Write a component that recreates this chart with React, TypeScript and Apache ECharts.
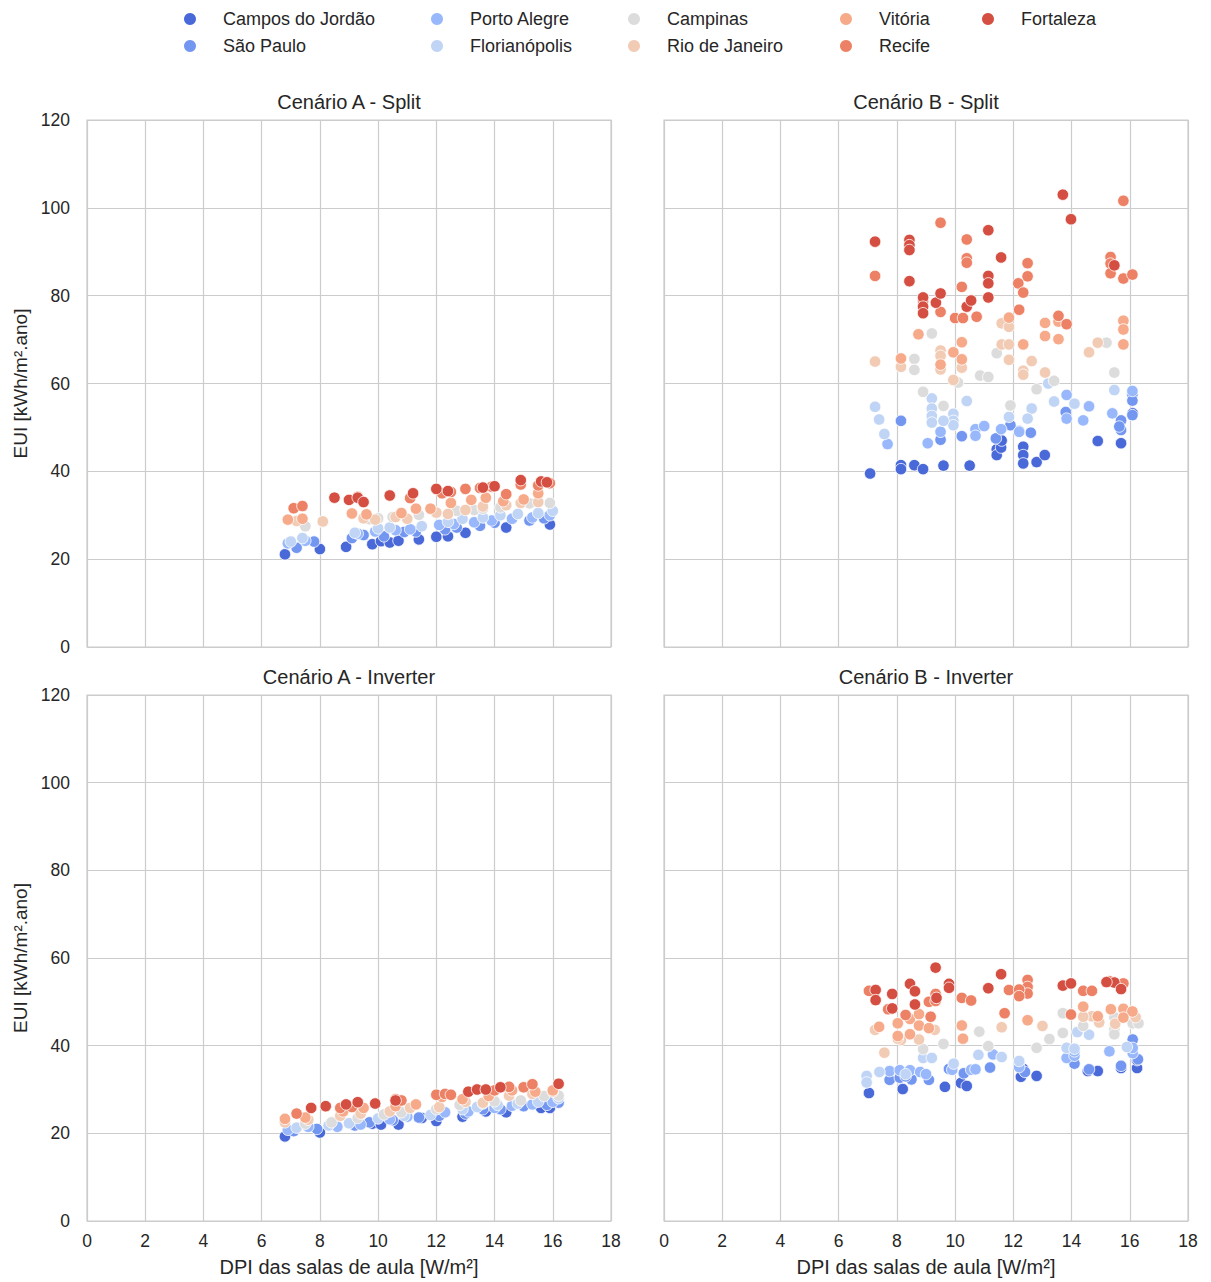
import React, { useEffect, useRef } from "react";
import * as echarts from "echarts";

const CITIES = [
  "Campos do Jordão",
  "São Paulo",
  "Porto Alegre",
  "Florianópolis",
  "Campinas",
  "Rio de Janeiro",
  "Vitória",
  "Recife",
  "Fortaleza",
];
const COLORS = ["#4a69d8", "#7396f0", "#98b8fb", "#c0d4f5", "#dcdcdc", "#f2cbb5", "#f6aa8a", "#ec8165", "#d44e41"];

const PANEL_TITLES = ["Cenário A - Split", "Cenário B - Split", "Cenário A - Inverter", "Cenário B - Inverter"];
const X_TICKS = [0, 2, 4, 6, 8, 10, 12, 14, 16, 18];
const Y_TICKS = [0, 20, 40, 60, 80, 100, 120];

// Cenário A - Split: [DPI, EUI] per city (same order as CITIES)
const A_SPLIT: number[][][] = [
  [[6.8,21.1],[8.0,22.3],[8.9,22.8],[9.8,23.4],[10.1,24.1],[10.4,23.8],[10.7,24.2],[11.4,24.5],[12.0,25.1],[12.4,25.2],[13.0,26.0],[14.4,27.2],[15.9,27.9]],
  [[7.2,22.6],[7.8,24.0],[9.1,24.8],[9.5,25.5],[10.2,25.2],[10.9,26.2],[11.3,26.3],[12.3,26.8],[12.7,27.2],[13.5,27.6],[14.0,28.3],[15.2,28.8],[15.7,29.3]],
  [[6.9,23.6],[7.5,24.2],[9.3,25.8],[9.9,26.3],[10.6,26.6],[11.1,26.8],[12.1,27.8],[12.6,28.0],[13.3,28.4],[13.9,28.8],[14.6,29.2],[15.3,29.5],[15.9,30.0]],
  [[7.0,24.0],[7.4,24.8],[9.2,26.0],[10.0,27.0],[10.4,27.2],[11.5,27.5],[12.4,28.5],[12.9,29.2],[13.6,29.5],[14.2,30.0],[14.8,30.3],[15.5,30.5],[16.0,31.0]],
  [[7.5,27.5],[8.1,28.5],[9.7,29.1],[10.0,29.3],[10.5,29.6],[11.4,30.1],[12.0,30.5],[12.7,31.0],[13.3,31.2],[13.6,31.5],[14.2,31.8],[15.2,32.7],[15.9,32.8]],
  [[7.2,28.7],[8.1,28.6],[9.5,29.3],[9.9,29.0],[10.6,29.6],[11.0,29.2],[12.0,30.6],[12.4,30.3],[13.0,31.2],[13.6,32.0],[14.4,32.3],[14.9,32.8],[15.5,33.0]],
  [[6.9,29.0],[7.4,29.2],[9.1,30.4],[9.6,30.2],[10.8,30.5],[11.3,31.5],[11.8,31.5],[12.5,32.8],[13.2,33.5],[13.7,34.0],[14.3,33.2],[15.0,33.6],[15.5,35.0]],
  [[7.1,31.6],[7.4,32.1],[9.3,34.2],[10.4,34.5],[11.1,33.9],[12.2,35.0],[12.5,35.3],[13.0,36.0],[13.5,36.2],[13.9,36.5],[14.4,34.8],[14.9,37.0],[15.5,36.8],[15.9,37.3]],
  [[8.5,34.0],[9.0,33.5],[9.3,34.0],[9.5,33.0],[10.4,34.5],[11.2,35.0],[12.0,36.0],[12.4,35.5],[13.6,36.3],[14.0,36.6],[14.9,38.0],[15.6,37.7],[15.8,37.5]],
];

// Cenário B - Split
const B_SPLIT: number[][][] = [
  [[7.08,39.5],[8.14,41.4],[8.14,40.5],[8.6,41.4],[8.9,40.5],[9.6,41.3],[10.5,41.3],[11.43,45.0],[11.43,43.7],[11.58,45.4],[12.34,45.6],[12.34,43.7],[12.34,41.8],[12.8,42.1],[13.08,43.7],[14.9,46.9],[15.7,46.4],[16.1,53.2],[11.6,47.0]],
  [[8.14,51.5],[10.23,48.0],[11.4,47.5],[12.2,49.2],[15.7,51.6],[15.7,49.4],[16.09,57.5],[16.09,56.1],[16.09,52.8],[9.5,47.2],[11.9,50.5],[12.6,48.8],[13.8,53.5],[15.64,50.2]],
  [[7.68,46.2],[9.06,46.4],[10.7,49.6],[11.0,50.3],[11.58,49.6],[10.7,48.1],[9.5,49.0],[12.2,49.0],[13.83,57.4],[13.83,52.0],[14.4,51.6],[15.4,53.2],[16.09,58.3],[14.6,54.8]],
  [[7.25,54.7],[7.39,51.8],[7.57,48.5],[9.2,56.6],[9.2,54.3],[9.2,52.6],[9.2,51.1],[9.94,53.1],[9.94,51.5],[9.94,50.5],[10.4,56.0],[9.6,51.5],[11.85,52.4],[12.63,54.3],[12.49,52.0],[13.2,60.0],[13.4,55.9],[14.1,55.4],[15.47,58.5]],
  [[9.2,71.4],[8.6,65.6],[8.6,63.1],[10.86,61.8],[11.14,61.5],[8.9,58.1],[9.6,54.9],[11.43,66.9],[15.2,69.3],[15.47,62.5],[12.8,58.7],[13.4,60.6],[10.1,60.2],[11.9,55.0]],
  [[7.25,65.0],[8.14,63.8],[9.5,67.5],[9.5,66.3],[9.5,63.2],[9.94,60.8],[10.23,63.6],[11.6,73.7],[11.6,68.9],[11.85,72.9],[11.85,68.9],[11.85,65.4],[12.63,65.1],[12.34,62.9],[12.34,62.0],[13.09,62.5],[14.6,67.1],[14.9,69.3]],
  [[8.74,71.2],[10.23,69.4],[8.14,65.7],[9.94,67.1],[10.23,65.5],[12.34,68.9],[13.09,70.8],[13.55,74.1],[13.09,73.8],[13.55,70.1],[15.78,74.3],[15.78,72.3],[15.78,68.9],[9.5,64.3],[11.85,75.0]],
  [[7.25,84.5],[9.5,96.6],[10.4,92.8],[10.4,88.5],[10.4,87.5],[10.23,82.0],[9.5,76.3],[10.0,74.9],[10.27,74.9],[10.74,75.2],[12.17,82.8],[12.49,87.4],[12.49,84.4],[12.34,80.7],[12.2,76.8],[15.78,101.6],[15.34,88.8],[15.34,87.3],[15.34,85.1],[15.78,83.9],[16.09,84.8],[13.55,75.4],[13.83,73.5],[8.9,78.8]],
  [[7.25,92.3],[8.43,92.7],[8.43,91.5],[8.43,90.4],[8.43,83.3],[8.9,79.6],[8.9,77.5],[8.9,76.0],[9.34,78.4],[9.5,80.5],[10.4,77.5],[10.55,78.9],[11.14,94.9],[11.14,84.5],[11.14,82.8],[11.14,79.6],[11.58,88.7],[13.7,103.0],[13.98,97.4],[15.47,86.9]],
];

// Cenário A - Inverter
const A_INVERTER: number[][][] = [
  [[6.8,19.3],[8.0,20.2],[9.8,22.2],[10.1,22.0],[10.7,22.0],[11.5,23.5],[12.0,22.8],[12.9,23.8],[13.7,25.0],[14.4,24.8],[15.6,25.8],[15.9,25.8]],
  [[7.1,20.5],[7.9,21.0],[9.2,21.8],[9.7,22.5],[10.5,23.0],[11.4,23.6],[12.1,24.0],[13.0,24.5],[13.6,25.5],[14.2,25.5],[15.0,26.2],[15.8,26.5],[16.2,27.0]],
  [[6.9,20.8],[7.6,21.5],[8.6,21.5],[9.4,22.0],[10.4,23.2],[11.0,23.8],[12.3,24.8],[13.1,25.0],[14.0,25.8],[14.6,26.3],[15.3,26.6],[16.0,27.2]],
  [[7.2,21.3],[8.3,21.8],[9.0,22.3],[10.0,23.4],[10.9,24.0],[11.8,24.2],[12.9,25.5],[13.4,26.0],[14.1,26.5],[14.8,26.8],[15.5,27.2],[16.2,28.0]],
  [[7.5,22.2],[8.4,22.5],[9.3,23.5],[10.2,24.3],[10.8,24.8],[12.0,25.5],[12.8,26.5],[13.6,26.8],[14.0,27.3],[14.9,27.5],[15.7,28.5],[16.2,28.6]],
  [[6.8,22.5],[7.6,23.1],[8.7,24.0],[9.4,24.5],[10.4,25.0],[11.1,25.8],[12.1,26.0],[13.0,27.2],[13.6,27.0],[14.5,28.6],[15.3,29.0],[16.0,29.5]],
  [[6.8,23.3],[7.5,23.6],[8.8,25.0],[9.5,25.8],[10.6,26.2],[11.3,26.6],[12.2,28.3],[12.9,27.8],[13.8,28.5],[14.6,29.8],[15.4,29.5],[16.0,29.8]],
  [[7.2,24.5],[8.7,25.8],[9.1,26.0],[10.6,27.8],[10.8,27.5],[12.0,28.8],[12.3,29.0],[12.5,28.8],[14.0,29.8],[14.5,30.6],[15.0,30.5],[15.3,31.2]],
  [[7.7,25.8],[8.2,26.2],[8.9,26.6],[9.3,27.1],[9.9,26.8],[10.6,27.5],[13.1,29.5],[13.4,30.0],[13.7,30.0],[14.2,30.5],[16.2,31.3]],
];

// Cenário B - Inverter
const B_INVERTER: number[][][] = [
  [[7.04,29.2],[8.2,30.1],[9.65,30.6],[10.2,31.5],[10.4,30.8],[12.26,32.9],[12.34,34.7],[12.8,33.1],[14.56,34.2],[14.9,34.2],[15.7,34.9],[16.25,34.9],[16.25,36.7]],
  [[7.75,32.2],[8.1,32.7],[8.5,32.3],[9.1,32.2],[9.79,34.7],[10.3,33.7],[14.1,35.9],[14.6,34.6],[15.7,35.4],[16.1,41.4],[16.28,36.9],[12.2,36.2],[12.4,34.0],[11.2,35.0],[8.3,33.0]],
  [[7.75,34.2],[8.1,34.4],[8.45,34.4],[8.8,34.0],[9.0,33.5],[9.9,34.5],[10.55,34.5],[10.7,34.6],[12.2,35.1],[13.83,37.2],[14.1,37.7],[14.1,38.7],[15.3,38.7],[16.1,38.3],[16.1,39.5],[11.3,38.0]],
  [[6.96,33.1],[6.96,31.6],[7.4,34.0],[8.9,37.2],[9.2,37.2],[9.95,35.9],[10.8,37.9],[11.6,37.4],[13.83,39.5],[14.1,39.3],[14.2,43.1],[14.6,42.5],[15.47,43.1],[15.9,39.7],[12.2,36.5],[8.3,33.5]],
  [[8.9,39.2],[9.6,40.4],[10.83,43.2],[11.14,39.9],[12.8,39.5],[13.24,41.5],[13.7,42.9],[13.7,47.4],[15.47,43.7],[15.47,42.6],[16.1,45.1],[16.3,45.1],[15.47,46.5],[14.4,44.5]],
  [[7.25,43.6],[8.14,41.3],[8.76,41.4],[7.57,38.4],[11.6,44.2],[14.7,46.7],[14.4,46.6],[14.95,45.3],[8.03,41.6],[9.3,43.6],[13.0,44.5],[16.2,46.5],[15.5,45.0]],
  [[7.39,44.3],[8.03,45.1],[8.45,46.1],[8.76,44.6],[8.76,47.2],[8.03,42.2],[8.45,42.6],[10.23,44.6],[10.27,41.6],[12.49,45.8],[15.35,48.3],[15.78,48.4],[16.09,47.8],[14.9,46.7],[15.78,46.4],[14.4,48.9],[9.1,44.0]],
  [[7.04,52.5],[7.7,48.3],[9.1,50.0],[9.33,51.8],[9.33,50.2],[10.23,50.9],[10.55,50.3],[9.16,46.6],[11.85,52.7],[11.7,47.4],[12.49,55.0],[12.49,53.4],[12.49,51.9],[12.2,52.8],[12.2,51.3],[14.4,52.5],[14.7,52.5],[15.3,54.7],[15.78,54.2],[13.98,47.1],[8.3,47.0]],
  [[9.33,57.8],[7.27,52.7],[7.27,50.4],[7.84,51.8],[8.45,54.1],[8.62,52.4],[8.62,49.4],[9.36,50.9],[9.79,54.1],[9.79,53.2],[11.14,53.1],[11.58,56.3],[7.84,48.5],[13.7,53.7],[13.98,54.2],[15.47,54.4],[15.7,52.9],[15.2,54.5]],
];

const PANELS = [A_SPLIT, B_SPLIT, A_INVERTER, B_INVERTER];

const FONT = "'Liberation Sans', Arial, Helvetica, sans-serif";
const TEXT = "#262626";
const GRIDC = "#cccccc";

const GRID_POS = [
  { left: 87, top: 120, width: 524, height: 527 },
  { left: 664, top: 120, width: 524, height: 527 },
  { left: 87, top: 695, width: 524, height: 526 },
  { left: 664, top: 695, width: 524, height: 526 },
];

export default function App() {
  const ref = useRef<HTMLDivElement>(null);
  useEffect(() => {
    if (!ref.current) return;
    const chart = echarts.init(ref.current, undefined, { renderer: "svg" });
    const grids = GRID_POS.map((g) => ({ ...g, show: true, borderColor: GRIDC, borderWidth: 1.2, containLabel: false }));
    const xAxes = GRID_POS.map((_, i) => ({
      type: "value",
      gridIndex: i,
      min: X_TICKS[0],
      max: X_TICKS[X_TICKS.length - 1],
      interval: 2,
      axisLine: { show: false },
      axisTick: { show: false },
      axisLabel: { show: i >= 2, color: TEXT, fontSize: 17.5, fontFamily: FONT, margin: 11 },
      splitLine: { show: true, lineStyle: { color: GRIDC, width: 1.2 } },
      name: i >= 2 ? "DPI das salas de aula [W/m²]" : "",
      nameLocation: "middle",
      nameGap: 36,
      nameTextStyle: { color: TEXT, fontSize: 20, fontFamily: FONT },
    }));
    const yAxes = GRID_POS.map((_, i) => ({
      type: "value",
      gridIndex: i,
      min: Y_TICKS[0],
      max: Y_TICKS[Y_TICKS.length - 1],
      interval: 20,
      axisLabel: { show: i % 2 === 0, color: TEXT, fontSize: 17.5, fontFamily: FONT, margin: 17 },
      axisLine: { show: false },
      axisTick: { show: false },
      splitLine: { show: true, lineStyle: { color: GRIDC, width: 1.2 } },
      name: i % 2 === 0 ? "EUI [kWh/m².ano]" : "",
      nameLocation: "middle",
      nameGap: 57,
      nameTextStyle: { color: TEXT, fontSize: 19, fontFamily: FONT },
    }));
    const series: any[] = [];
    PANELS.forEach((panel, p) => {
      panel.forEach((pts, c) => {
        series.push({
          type: "scatter",
          name: CITIES[c],
          xAxisIndex: p,
          yAxisIndex: p,
          data: pts,
          symbol: "circle",
          symbolSize: 11.5,
          itemStyle: { color: COLORS[c], borderColor: "#ffffff", borderWidth: 0.8, opacity: 1 },
          emphasis: { disabled: true },
        });
      });
    });
    const legendCols = [
      { names: [CITIES[0], CITIES[1]], left: 179 },
      { names: [CITIES[2], CITIES[3]], left: 426 },
      { names: [CITIES[4], CITIES[5]], left: 623 },
      { names: [CITIES[6], CITIES[7]], left: 835 },
      { names: [CITIES[8]], left: 977 },
    ];
    const legends = legendCols.map((col) => ({
      data: col.names,
      orient: "vertical",
      left: col.left,
      top: 5,
      itemWidth: 56,
      itemHeight: 12,
      itemGap: 9,
      icon: "circle",
      selectedMode: false,
      textStyle: { color: TEXT, fontSize: 18, fontFamily: FONT },
      itemStyle: { borderWidth: 0 },
    }));
    const titles = PANEL_TITLES.map((t, i) => ({
      type: "text",
      x: GRID_POS[i].left + GRID_POS[i].width / 2,
      y: GRID_POS[i].top - 18,
      style: { text: t, textAlign: "center", textVerticalAlign: "middle", fontSize: 20, fill: TEXT, fontFamily: FONT },
    }));
    chart.setOption({
      animation: false,
      backgroundColor: "#ffffff",
      grid: grids,
      xAxis: xAxes,
      yAxis: yAxes,
      legend: legends,
      graphic: titles,
      series,
    });
    return () => chart.dispose();
  }, []);
  return <div ref={ref} style={{ position: "absolute", left: 0, top: 0, width: 1211, height: 1282 }} />;
}
